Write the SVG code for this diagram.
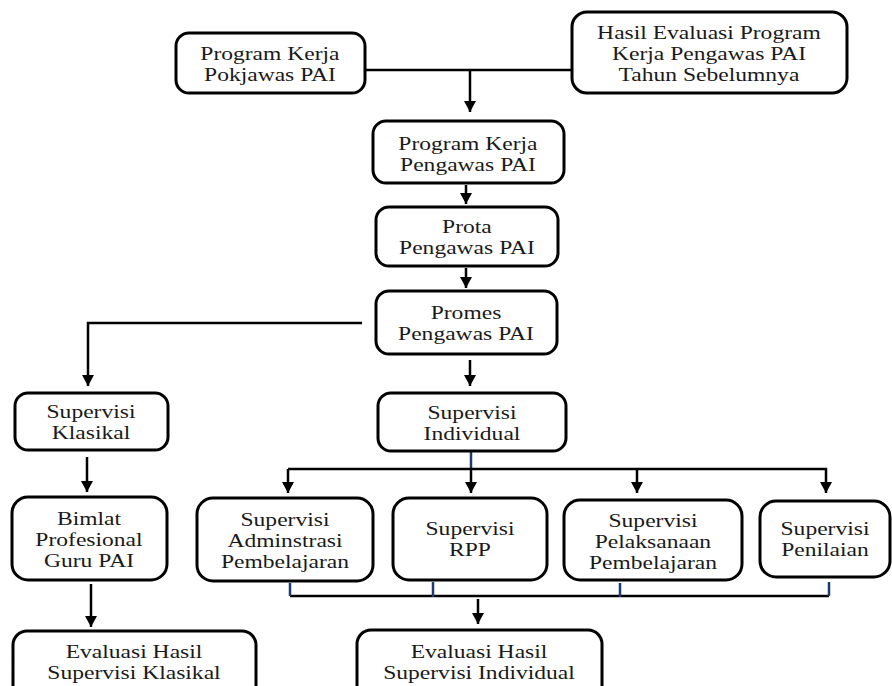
<svg xmlns="http://www.w3.org/2000/svg" width="892" height="686" viewBox="0 0 892 686">
<style>
.box{fill:#fff;stroke:#000;stroke-width:3}
text{font-family:"Liberation Serif","Times New Roman",serif;font-size:19px;fill:#1a1a1a;text-anchor:middle;transform:scaleX(1.24);transform-box:fill-box;transform-origin:center}
.c{fill:none;stroke:#000;stroke-width:2.5}
.b{fill:none;stroke:#1f3a6e;stroke-width:2.5}
</style>
<defs>
<marker id="ad" markerUnits="userSpaceOnUse" markerWidth="14" markerHeight="14" viewBox="0 0 14 14" refX="13" refY="7" orient="auto">
<path d="M2,1 L13,7 L2,13 Z" fill="#000"/>
</marker>
</defs>
<rect width="892" height="686" fill="#fff"/>
<g id="connectors">
<path class="c" d="M365,70 H572"/>
<path class="c" d="M470,70 V112" marker-end="url(#ad)"/>
<path class="c" d="M466,185 V204" marker-end="url(#ad)"/>
<path class="c" d="M466,268 V288" marker-end="url(#ad)"/>
<path class="c" d="M362,323 H88 V386" marker-end="url(#ad)"/>
<path class="c" d="M470,360 V386" marker-end="url(#ad)"/>
<path class="b" d="M471,452 V469"/>
<path class="c" d="M288,469 H826 V493" marker-end="url(#ad)"/>
<path class="c" d="M288,469 V493" marker-end="url(#ad)"/>
<path class="c" d="M471,469 V493" marker-end="url(#ad)"/>
<path class="c" d="M637,469 V493" marker-end="url(#ad)"/>
<path class="c" d="M87,457 V492" marker-end="url(#ad)"/>
<path class="c" d="M290,596 H829"/>
<path class="b" d="M290,583 V596 M433,582 V597 M620,583 V597 M829,582 V596"/>
<path class="c" d="M478,599 V624" marker-end="url(#ad)"/>
<path class="c" d="M91,584 V627" marker-end="url(#ad)"/>
</g>
<g id="n-pokjawas"><rect class="box" x="176" y="33" width="189" height="60" rx="13"/><text x="270" y="60">Program Kerja</text><text x="270" y="81">Pokjawas PAI</text></g>
<g id="n-hasil"><rect class="box" x="572" y="12" width="275" height="81" rx="15"/><text x="709" y="39">Hasil Evaluasi Program</text><text x="709" y="60">Kerja  Pengawas PAI</text><text x="709" y="81">Tahun Sebelumnya</text></g>
<g id="n-pk"><rect class="box" x="373" y="121" width="191" height="62" rx="13"/><text x="468" y="150">Program Kerja</text><text x="468" y="171">Pengawas PAI</text></g>
<g id="n-prota"><rect class="box" x="376" y="207" width="182" height="59" rx="13"/><text x="467" y="233">Prota</text><text x="467" y="254">Pengawas PAI</text></g>
<g id="n-promes"><rect class="box" x="376" y="291" width="181" height="63" rx="13"/><text x="466" y="319">Promes</text><text x="466" y="340">Pengawas PAI</text></g>
<g id="n-klasikal"><rect class="box" x="15" y="393" width="153" height="57" rx="13"/><text x="91" y="418">Supervisi</text><text x="91" y="439">Klasikal</text></g>
<g id="n-individual"><rect class="box" x="378" y="393" width="188" height="58" rx="13"/><text x="472" y="419">Supervisi</text><text x="472" y="440">Individual</text></g>
<g id="n-bimlat"><rect class="box" x="12" y="497" width="155" height="83" rx="16"/><text x="89" y="525">Bimlat</text><text x="89" y="546">Profesional</text><text x="89" y="567">Guru PAI</text></g>
<g id="n-admin"><rect class="box" x="197" y="498" width="176" height="83" rx="16"/><text x="285" y="526">Supervisi</text><text x="285" y="547">Adminstrasi</text><text x="285" y="568">Pembelajaran</text></g>
<g id="n-rpp"><rect class="box" x="393" y="498" width="154" height="82" rx="16"/><text x="470" y="535">Supervisi</text><text x="470" y="556">RPP</text></g>
<g id="n-pelaksanaan"><rect class="box" x="564" y="500" width="178" height="80" rx="16"/><text x="653" y="527">Supervisi</text><text x="653" y="548">Pelaksanaan</text><text x="653" y="569">Pembelajaran</text></g>
<g id="n-penilaian"><rect class="box" x="760" y="501" width="130" height="76" rx="16"/><text x="825" y="535">Supervisi</text><text x="825" y="556">Penilaian</text></g>
<g id="n-evalk"><rect class="box" x="13" y="631" width="243" height="75" rx="14"/><text x="134" y="658">Evaluasi Hasil</text><text x="134" y="679">Supervisi Klasikal</text></g>
<g id="n-evali"><rect class="box" x="357" y="630" width="245" height="75" rx="14"/><text x="479" y="658">Evaluasi Hasil</text><text x="479" y="679">Supervisi Individual</text></g>
</svg>
